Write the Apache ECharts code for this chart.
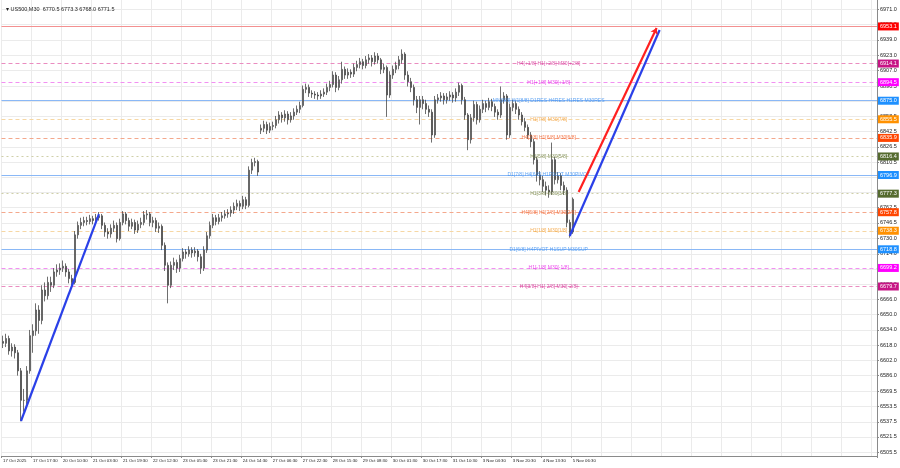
<!DOCTYPE html>
<html><head><meta charset="utf-8">
<script src="https://cdn.jsdelivr.net/npm/echarts@6/dist/echarts.min.js"></script>
<style>html,body{margin:0;padding:0;background:#fff}#c{width:900px;height:468px}</style>
</head><body><div id="c"></div>
<script>
// ---------- DATA ----------
const headerText = "US500,M30  6770.5 6773.3 6768.0 6771.5";
const timeLabels = ["17 Oct 2025","17 Oct 17:30","20 Oct 10:30","21 Oct 03:30","21 Oct 19:30","22 Oct 12:30","23 Oct 05:30","23 Oct 21:30","24 Oct 14:30","27 Oct 06:30","27 Oct 22:30","28 Oct 15:30","29 Oct 08:30","30 Oct 01:30","30 Oct 17:30","31 Oct 10:30","3 Nov 04:30","3 Nov 20:30","4 Nov 13:30","5 Nov 06:30"];
const yTicks = [6971.0,6955.0,6939.0,6923.0,6907.0,6890.5,6874.5,6858.5,6842.5,6826.5,6810.5,6794.5,6778.5,6762.5,6746.5,6730.0,6714.0,6698.0,6682.0,6666.0,6650.0,6634.0,6618.0,6602.0,6586.0,6569.5,6553.5,6537.5,6521.5,6505.5];

const opens = [6622,6620,6625,6612,6616,6610,6591,6560,6560,6591,
6628,6633,6655,6644,6676,6670,6684,6681,6695,6697,
6699,6701,6695,6688,6684,6734,6744,6747,6749,6748,
6751,6749,6752,6754,6744,6737,6735,6741,6744,6730,
6747,6756,6749,6743,6747,6739,6745,6747,6755,6756,
6747,6749,6741,6743,6723,6702,6681,6702,6705,6699,
6709,6716,6714,6718,6715,6717,6711,6699,6718,6733,
6744,6752,6748,6752,6754,6756,6757,6760,6764,6767,
6764,6771,6765,6802,6810,6811,6844,6846,6850,6844,
6848,6849,6855,6860,6857,6861,6855,6859,6863,6866,
6870,6887,6889,6883,6882,6881,6880,6882,6884,6889,
6892,6902,6889,6897,6908,6902,6905,6903,6910,6913,
6916,6912,6918,6920,6916,6922,6918,6908,6910,6881,
6902,6908,6912,6918,6924,6902,6895,6889,6876,6868,
6876,6872,6866,6863,6839,6876,6878,6880,6876,6879,
6881,6878,6884,6891,6876,6860,6834,6857,6871,6855,
6866,6872,6868,6874,6869,6863,6860,6876,6880,6839,
6868,6872,6866,6860,6853,6847,6839,6832,6813,6797,
6792,6785,6781,6779,6813,6792,6796,6786,6781,6747,6737];
const closes = [6620,6625,6612,6616,6610,6591,6560,6560,6591,6628,
6633,6655,6644,6676,6670,6684,6681,6695,6697,6699,
6701,6695,6688,6684,6734,6744,6747,6749,6748,6751,
6749,6752,6754,6744,6737,6735,6741,6744,6730,6747,
6756,6749,6743,6747,6739,6745,6747,6755,6756,6747,
6749,6741,6743,6723,6702,6681,6702,6705,6699,6709,
6716,6714,6718,6715,6717,6711,6699,6718,6733,6744,
6752,6748,6752,6754,6756,6757,6760,6764,6767,6764,
6771,6765,6802,6810,6811,6800,6846,6850,6844,6848,
6849,6855,6860,6857,6861,6855,6859,6863,6866,6870,
6887,6889,6883,6882,6881,6880,6882,6884,6889,6892,
6902,6889,6897,6908,6902,6905,6903,6910,6913,6916,
6912,6918,6920,6916,6922,6918,6908,6910,6881,6902,
6908,6912,6918,6924,6902,6895,6889,6876,6868,6876,
6872,6866,6863,6839,6876,6878,6880,6876,6879,6881,
6878,6884,6891,6876,6860,6834,6857,6871,6855,6866,
6872,6868,6874,6869,6863,6860,6876,6880,6839,6868,
6872,6866,6860,6853,6847,6839,6832,6813,6797,6792,
6785,6781,6779,6813,6792,6796,6786,6781,6747,6737,6771.5];
const lows = [6615,6616,6608,6606,6604,6586,6538,6548,6556,6588,
6610,6628,6630,6640,6664,6666,6674,6678,6690,6692,
6695,6690,6683,6678,6682,6730,6740,6743,6744,6745,
6745,6746,6749,6740,6732,6730,6731,6737,6726,6728,
6744,6745,6738,6740,6735,6736,6741,6744,6750,6743,
6742,6737,6736,6718,6696,6662,6678,6697,6694,6695,
6706,6709,6711,6710,6711,6706,6693,6696,6715,6730,
6741,6744,6745,6748,6751,6752,6753,6756,6760,6759,
6761,6761,6763,6798,6806,6796,6840,6842,6840,6841,
6844,6846,6851,6852,6853,6850,6852,6855,6860,6862,
6868,6883,6879,6878,6877,6876,6877,6879,6881,6885,
6889,6884,6886,6893,6898,6898,6899,6900,6906,6909,
6908,6909,6914,6911,6913,6914,6903,6904,6858,6878,
6898,6904,6908,6914,6897,6890,6884,6870,6862,6850,
6866,6861,6858,6831,6836,6872,6874,6871,6872,6875,
6873,6874,6880,6871,6855,6823,6830,6853,6850,6852,
6862,6863,6865,6864,6858,6855,6857,6872,6834,6836,
6864,6861,6855,6849,6843,6835,6826,6808,6790,6786,
6779,6776,6773,6776,6787,6788,6781,6776,6742,6731,6735];
const highs = [6628,6630,6628,6620,6619,6613,6594,6572,6596,6634,
6640,6662,6660,6681,6684,6690,6690,6699,6703,6704,
6707,6704,6698,6692,6738,6748,6752,6753,6753,6755,
6754,6756,6758,6756,6747,6741,6745,6749,6747,6751,
6759,6758,6752,6751,6750,6749,6752,6759,6760,6758,
6753,6752,6747,6745,6726,6705,6706,6710,6708,6713,
6720,6719,6722,6721,6721,6719,6714,6722,6737,6748,
6756,6755,6756,6758,6760,6761,6764,6768,6771,6770,
6775,6774,6806,6814,6815,6813,6850,6854,6853,6852,
6853,6859,6864,6863,6865,6864,6863,6867,6870,6874,
6891,6893,6892,6886,6885,6884,6886,6888,6893,6896,
6906,6905,6901,6916,6911,6909,6908,6914,6917,6920,
6919,6922,6924,6923,6926,6925,6920,6914,6912,6906,
6912,6916,6922,6929,6926,6906,6899,6892,6880,6880,
6880,6876,6870,6866,6880,6882,6884,6883,6883,6885,
6884,6888,6894,6893,6879,6862,6861,6875,6874,6870,
6876,6875,6878,6877,6872,6866,6890,6884,6882,6872,
6876,6875,6869,6863,6857,6850,6842,6835,6816,6801,
6796,6790,6786,6831,6816,6800,6799,6790,6784,6750,6773.3];

const levelPrices = [6953.1,6914.1,6894.5,6875.0,6855.5,6835.9,6816.4,6796.9,6777.3,6757.8,6738.3,6718.8,6699.2,6679.7];
const levelTexts = ["","H4[+1/8] H1[+2/8] M30[+2/8]","H1[+1/8] M30[+1/8]","MN[8/8] W1[8/8] D1RES H4RES H1RES M30RES","H1[7/8] M30[7/8]","H4[7/8] H1[6/8] M30[6/8]","H1[5/8] M30[5/8]","D1[7/8] H4[6/8] H1PIVOT M30PIVOT","H1[3/8] M30[3/8]","H4[5/8] H1[2/8] M30[2/8]","H1[1/8] M30[1/8]","D1[6/8] H4PIVOT H1SUP M30SUP","H1[-1/8] M30[-1/8]","H4[3/8] H1[-2/8] M30[-2/8]"];
// trend lines: start [index, price] and end [index, price]
const trendStarts = [[6,6538.3],[189,6732.8],[192,6779.0]];
const trendEnds = [[32,6755.9],[219,6949.3],[218,6951.4]];

// ---------- STYLES ----------
const FONT = "Liberation Sans";
const SLOTS = 292;
const levelStyles = [
 {line:'#f39090', type:'solid', text:'#e04040', bg:'#ff0000'},
 {line:'#ea8cc0', type:[4,3], text:'#d42a94', bg:'#c71585'},
 {line:'#f290f2', type:[4,3], text:'#e61ee6', bg:'#ff00ff'},
 {line:'#8ab8f6', type:'solid', text:'#3b8ff0', bg:'#1e90ff'},
 {line:'#f6d7a4', type:[4,3], text:'#f29a2c', bg:'#ff9100'},
 {line:'#f4a88c', type:[4,3], text:'#f25a22', bg:'#ff4500'},
 {line:'#cfcfa8', type:[2,3], text:'#6f8040', bg:'#556b2f'},
 {line:'#8ab8f6', type:'solid', text:'#3b8ff0', bg:'#1e90ff'},
 {line:'#cfcfa8', type:[2,3], text:'#6f8040', bg:'#556b2f'},
 {line:'#f4a88c', type:[4,3], text:'#f25a22', bg:'#ff4500'},
 {line:'#f6d7a4', type:[4,3], text:'#f29a2c', bg:'#ff9100'},
 {line:'#8ab8f6', type:'solid', text:'#3b8ff0', bg:'#1e90ff'},
 {line:'#f290f2', type:[4,3], text:'#e61ee6', bg:'#ff00ff'},
 {line:'#ea8cc0', type:[4,3], text:'#d42a94', bg:'#c71585'}
];
const trendColors = ['#2a40e8','#2a40e8','#ff2020'];

// ---------- BUILD ----------
const cats = Array.from({length: SLOTS}, (_, i) => String(i));
const candles = opens.map((o, i) => [o, closes[i], lows[i], highs[i]]);
const last = closes[closes.length - 1];
const textIdx = 182;

const gridLines = yTicks.map(v => ({yAxis: v, lineStyle: {color: '#ebebeb', width: 1, type: 'solid'}, label: {show: false}}));

const levelLines = levelPrices.map((p, k) => ({
  yAxis: p,
  lineStyle: {color: levelStyles[k].line, type: levelStyles[k].type, width: levelStyles[k].type === 'solid' ? 1.2 : 1},
  label: {show: true, position: 'end', distance: 1, formatter: p.toFixed(1), color: '#fff',
    backgroundColor: levelStyles[k].bg, padding: [1, 2, 1, 2], fontSize: 5.5, fontFamily: FONT}
}));
levelLines.push({
  yAxis: last, lineStyle: {opacity: 0},
  label: {show: true, position: 'end', distance: 1, formatter: last.toFixed(1), color: '#fff',
    backgroundColor: '#000', padding: [1, 2, 1, 2], fontSize: 5.5, fontFamily: FONT}
});

const trendData = trendStarts.map((s, k) => [
  {coord: s, lineStyle: {color: trendColors[k], width: 2.2, type: 'solid'}},
  {coord: trendEnds[k], symbol: k === 2 ? 'arrow' : 'none', symbolSize: 6}
]);

const textData = levelPrices.map((p, k) => ({
  value: [textIdx, p],
  label: {show: levelTexts[k] !== '', formatter: levelTexts[k], color: levelStyles[k].text}
}));

const showTick = (i) => i % 10 === 0 && i / 10 < timeLabels.length;
const chart = echarts.init(document.getElementById('c'), null, {renderer: 'canvas'});
chart.setOption({
  animation: false,
  backgroundColor: '#fff',
  title: {text: '\u25BE ' + headerText, left: 1, top: 1, textStyle: {fontSize: 5.5, fontWeight: 'normal', color: '#222', fontFamily: FONT}},
  grid: {left: 0, right: 23, top: 0, bottom: 12, containLabel: false},
  xAxis: {
    type: 'category', data: cats, boundaryGap: true,
    axisLine: {show: true, lineStyle: {color: '#8a8a8a'}},
    axisTick: {show: true, interval: showTick, length: 2, lineStyle: {color: '#8a8a8a'}},
    axisLabel: {interval: showTick, formatter: (v) => timeLabels[(+v) / 10] || '',
      fontSize: 4.3, color: '#222', align: 'left', margin: 3, fontFamily: FONT},
    splitLine: {show: true, interval: (i) => i % 10 === 0, lineStyle: {color: '#ebebeb', width: 1}}
  },
  yAxis: {
    type: 'value', position: 'right', min: 6501.5, max: 6980.9,
    axisLine: {show: true, lineStyle: {color: '#8a8a8a'}},
    axisTick: {show: true, customValues: yTicks, length: 2, lineStyle: {color: '#8a8a8a'}},
    axisLabel: {customValues: yTicks, formatter: (v) => v.toFixed(1), fontSize: 5.5, color: '#222', margin: 3, fontFamily: FONT},
    splitLine: {show: false}
  },
  series: [
    {
      type: 'line', data: [], silent: true,
      markLine: {silent: true, symbol: ['none', 'none'], data: gridLines, z: 1, animation: false}
    },
    {
      type: 'candlestick', data: candles, barWidth: 1.6, z: 5,
      itemStyle: {color: '#bdbdbd', color0: '#4a4a4a', borderColor: '#4a4a4a', borderColor0: '#4a4a4a', borderWidth: 0.8},
      markLine: {silent: true, symbol: ['none', 'none'], data: levelLines, animation: false, z: 3}
    },
    {
      type: 'scatter', data: textData, symbolSize: 0, z: 8, silent: true,
      label: {show: true, position: 'inside', fontSize: 5, fontFamily: FONT}
    },
    {
      type: 'line', data: [], silent: true, z: 9,
      markLine: {silent: true, symbol: ['none', 'none'], label: {show: false}, data: trendData, animation: false, z: 9}
    }
  ]
});
</script></body></html>
